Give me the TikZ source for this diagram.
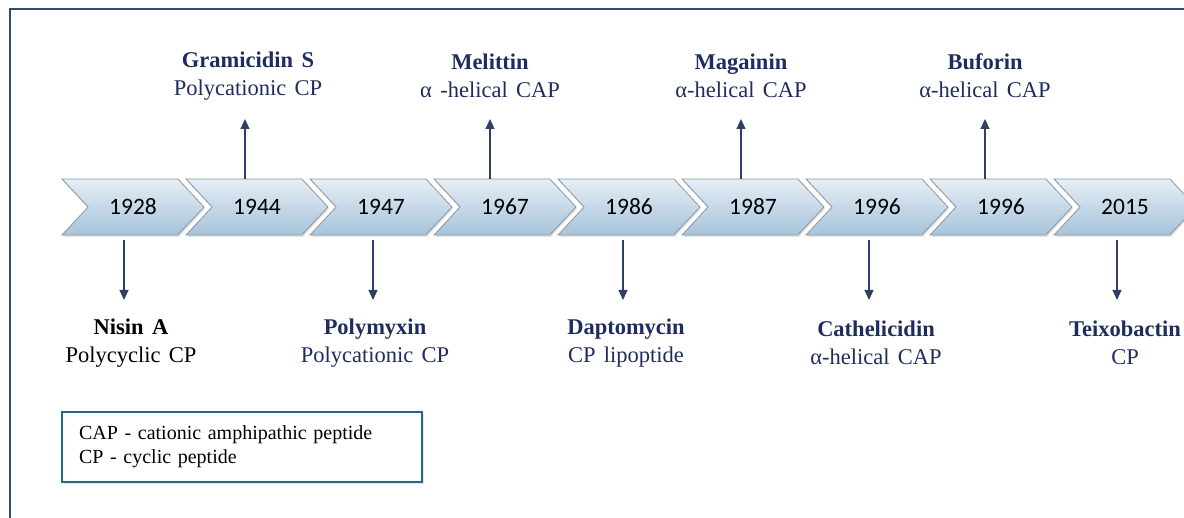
\documentclass[tikz,border=0pt]{standalone}
\usepackage{fontspec}
\setmainfont{Liberation Serif}[WordSpace=1.5]
\newfontfamily\yearfont{Carlito}
\usetikzlibrary{arrows.meta,positioning,shapes.symbols,shadows}
\definecolor{PepNavy}{HTML}{1F2D5E}
\definecolor{PepLine}{HTML}{2F3F66}
\definecolor{PepFrame}{HTML}{2F4B7C}
\definecolor{PepTeal}{HTML}{1F6A8A}
\definecolor{PepTop}{HTML}{E6EEF6}
\definecolor{PepBottom}{HTML}{A6C3DA}
\definecolor{PepEdge}{HTML}{8C969F}
\tikzset{
  chevron/.style={signal, signal to=east, signal from=west,
                  signal pointer angle=94, draw=PepEdge, line width=0.8pt,
                  top color=PepTop, bottom color=PepBottom,
                  drop shadow={opacity=0.22, shadow xshift=1pt, shadow yshift=-2pt},
                  minimum width=142pt, minimum height=56pt, inner sep=0pt,
                  font=\yearfont\fontsize{23.5}{26}\selectfont},
  eventlbl/.style={align=center, font=\fontsize{22.5}{28}\selectfont, text=PepNavy},
  arrow/.style={-{Triangle[length=10pt,width=9pt]}, line width=1.1pt, PepLine},
  keybox/.style={draw=PepTeal, line width=1.8pt, fill=white,
                 drop shadow={opacity=0.2, shadow xshift=2pt, shadow yshift=-2pt},
                 minimum width=360pt, minimum height=70pt, text width=326pt,
                 align=left, font=\fontsize{20}{24}\selectfont},
}

\begin{document}
\begin{tikzpicture}[x=1pt, y=-1pt]
  \useasboundingbox (0,0) rectangle (1184,518);

  % outer frame, cut by the page at right and bottom
  \draw[PepFrame, line width=1.5pt] (10,520) -- (10,9) -- (1186,9);

  % timeline of chevrons
  \foreach \yr [count=\i] in {1928,1944,1947,1967,1986,1987,1996,1996,2015}
    \node[chevron] (c\i) at ({133+124*(\i-1)},207) {\yr};

  % discoveries above the line
  \node[eventlbl] (gram) at (248,76) {\textbf{Gramicidin S}\\Polycationic CP};
  \node[eventlbl] (meli) at (490,76) {\textbf{Melittin}\\α -helical CAP};
  \node[eventlbl] (maga) at (741,76) {\textbf{Magainin}\\α-helical CAP};
  \node[eventlbl] (bufo) at (985,76) {\textbf{Buforin}\\α-helical CAP};

  % discoveries below the line
  \node[eventlbl, text=black] (nisin) at (131,343) {\textbf{Nisin A}\\Polycyclic CP};
  \node[eventlbl] (poly) at (375,343) {\textbf{Polymyxin}\\Polycationic CP};
  \node[eventlbl] (dapt) at (626,343) {\textbf{Daptomycin}\\CP lipoptide};
  \node[eventlbl] (cath) at (876,343) {\textbf{Cathelicidin}\\α-helical CAP};
  \node[eventlbl] (teix) at (1125,343) {\textbf{Teixobactin}\\CP};

  % arrow ends
  \coordinate (u2) at (245,119);
  \coordinate (u4) at (490,119);
  \coordinate (u6) at (741,119);
  \coordinate (u8) at (985,119);
  \coordinate (d1) at (124,300);
  \coordinate (d3) at (373,300);
  \coordinate (d5) at (623,300);
  \coordinate (d7) at (869,300);
  \coordinate (d9) at (1117,300);

  \foreach \i in {2,4,6,8}
    \draw[arrow] (u\i |- c\i.north) -- (u\i);
  \foreach \i in {1,3,5,7,9}
    \draw[arrow, shorten <=5pt] (d\i |- c\i.south) -- (d\i);

  % abbreviations
  \node[keybox] (key) at (242,447)
        {CAP - cationic amphipathic peptide\\CP - cyclic peptide};
\end{tikzpicture}
\end{document}
